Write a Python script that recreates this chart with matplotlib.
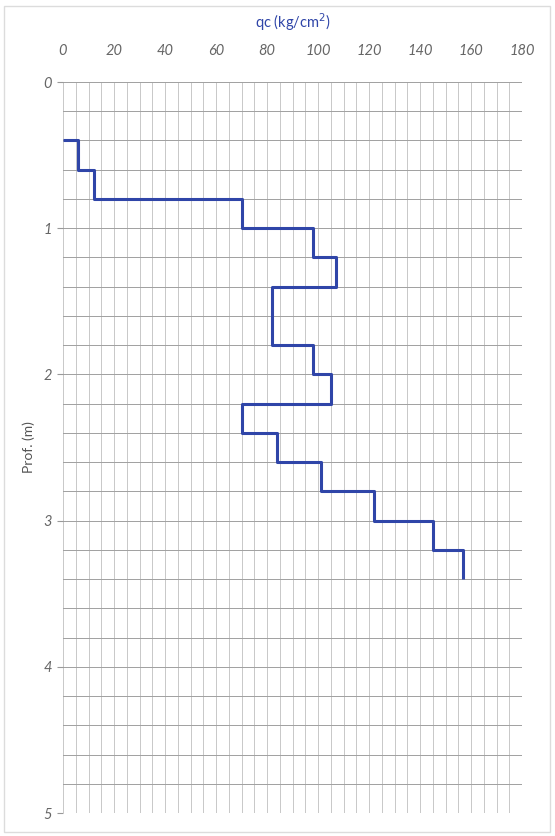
import matplotlib
matplotlib.use("Agg")
import matplotlib.pyplot as plt
from matplotlib.patches import Rectangle
import numpy as np

# Data: cone resistance qc (kg/cm2) per depth layer
layer_top = [0.4, 0.6, 0.8, 1.0, 1.2, 1.4, 1.8, 2.0, 2.2, 2.4, 2.6, 2.8, 3.0, 3.2]
layer_bottom = [0.6, 0.8, 1.0, 1.2, 1.4, 1.8, 2.0, 2.2, 2.4, 2.6, 2.8, 3.0, 3.2, 3.4]
qc = [6, 12, 70, 98, 107, 82, 98, 105, 70, 84, 101, 122, 145, 157]
start_q = 0

x_ticks = [0, 20, 40, 60, 80, 100, 120, 140, 160, 180]
x_tick_labels = ["0", "20", "40", "60", "80", "100", "120", "140", "160", "180"]
y_ticks = [0, 1, 2, 3, 4, 5]

xs = [start_q]
ys = [layer_top[0]]
for q, t, b in zip(qc, layer_top, layer_bottom):
    xs += [q, q]
    ys += [t, b]

fig = plt.figure(figsize=(5.55, 8.36), dpi=100)
fig.patch.set_facecolor("white")
ax = fig.add_axes([63/555, 1-813/836, (522-63)/555, (813-82)/836])

# page border (scan)
fig.add_artist(Rectangle((4/555, 4/836), 546/555, 826/836, transform=fig.transFigure,
                         fill=False, edgecolor="#dcdcdc", linewidth=1.0))

ax.set_xlim(0, 180)
ax.set_ylim(5, 0)
ax.xaxis.tick_top()
ax.xaxis.set_label_position("top")

for v in np.arange(0, 180.1, 5):
    ax.axvline(v, color="#c8c8c8", linewidth=0.7, zorder=1)
for h in np.arange(0, 5.01, 0.2):
    ax.axhline(h, color="#a0a0a0", linewidth=0.7, zorder=1)

ax.plot(xs, ys, color="#2f45a8", linewidth=2.2, zorder=3, solid_capstyle="butt")

for s in ax.spines.values():
    s.set_visible(False)

tfont = dict(family="Lato", fontstyle="italic", color="#666666", fontsize=10.5)
ax.set_xticks(x_ticks)
ax.set_xticklabels(x_tick_labels, **tfont)
ax.set_yticks(y_ticks)
ax.set_yticklabels([str(v) for v in y_ticks], **tfont)
ax.tick_params(axis="x", length=0, pad=17)
ax.tick_params(axis="y", length=4, color="#999999", pad=4)

ax.set_xlabel("qc (kg/cm$^2$)", color="#2f45a8", fontsize=10.5, family="Lato", labelpad=12)
ax.set_ylabel("Prof. (m)", color="#555555", fontsize=10, family="Lato", labelpad=6)

fig.savefig("out.png", dpi=100, facecolor="white")
